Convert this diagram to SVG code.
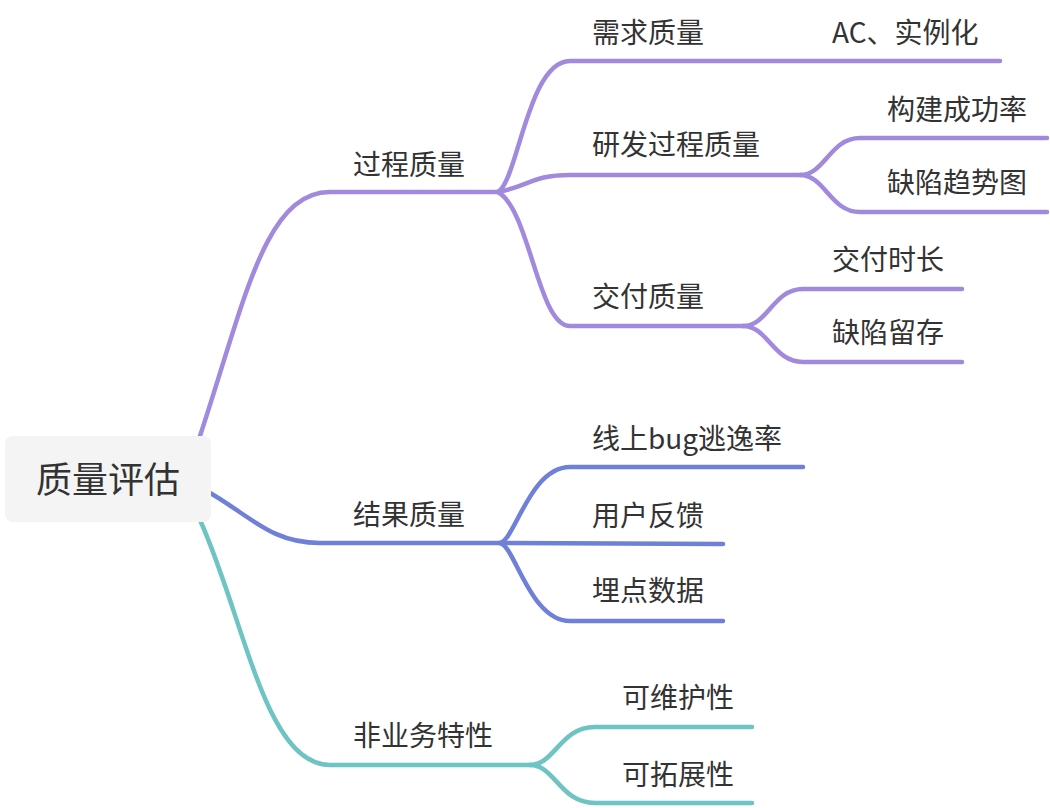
<svg xmlns="http://www.w3.org/2000/svg" width="1050" height="808" viewBox="0 0 1050 808">
<style>
text{font-family:"Noto Sans CJK SC","Noto Sans",sans-serif;fill:#333333;font-size:28px}
.root{font-size:36px}
.c{fill:none;stroke-width:4.5;stroke-linecap:round;stroke-linejoin:round}
.p{stroke:#a18add}
.b{stroke:#6f80d8}
.t{stroke:#6dc4c2}
</style>
<rect width="1050" height="808" fill="#ffffff"/>
<g id="connectors">
<path class="c p" d="M200 436 C245 300 265 192 330 192 L498 192"/>
<path class="c p" d="M498 192 C518 180 528 61 570 61 L1000 61"/>
<path class="c p" d="M498 192 C530 186 532 175 570 175 L800 175"/>
<path class="c p" d="M498 192 C530 210 538 326 570 326 L743 326"/>
<path class="c p" d="M800 175 C825 175 830 138 860 138 L1047 138"/>
<path class="c p" d="M800 175 C825 175 830 212 860 212 L1047 212"/>
<path class="c p" d="M743 326 C768 326 773 289 803 289 L962 289"/>
<path class="c p" d="M743 326 C768 326 773 362 803 362 L962 362"/>
<path class="c b" d="M205 490 C250 515 270 543 320 543 L500 543"/>
<path class="c b" d="M500 543 C515 540 530 467 570 467 L803 467"/>
<path class="c b" d="M500 543 L723 544"/>
<path class="c b" d="M500 543 C515 546 530 621 570 621 L723 621"/>
<path class="c t" d="M200 520 C245 620 265 765 330 765 L530 765"/>
<path class="c t" d="M530 765 C555 765 560 727 595 727 L752 727"/>
<path class="c t" d="M530 765 C555 765 560 803 595 803 L752 803"/>
</g>
<g id="root">
<rect x="5" y="436" width="206" height="86" rx="8" fill="#f4f4f4"/>
<text class="root" x="108" y="493" text-anchor="middle">质量评估</text>
</g>
<g id="n-process"><text x="353" y="175">过程质量</text></g>
<g id="n-req"><text x="592" y="43">需求质量</text></g>
<g id="n-ac"><text x="832" y="43">AC、实例化</text></g>
<g id="n-dev"><text x="592" y="155">研发过程质量</text></g>
<g id="n-build"><text x="887" y="120">构建成功率</text></g>
<g id="n-trend"><text x="887" y="193">缺陷趋势图</text></g>
<g id="n-deliver"><text x="592" y="307">交付质量</text></g>
<g id="n-time"><text x="832" y="270">交付时长</text></g>
<g id="n-remain"><text x="832" y="343">缺陷留存</text></g>
<g id="n-result"><text x="353" y="525">结果质量</text></g>
<g id="n-escape"><text x="592" y="449">线上bug逃逸率</text></g>
<g id="n-feedback"><text x="592" y="526">用户反馈</text></g>
<g id="n-track"><text x="592" y="601">埋点数据</text></g>
<g id="n-nonbiz"><text x="353" y="746">非业务特性</text></g>
<g id="n-maint"><text x="622" y="708">可维护性</text></g>
<g id="n-ext"><text x="622" y="785">可拓展性</text></g>
</svg>
